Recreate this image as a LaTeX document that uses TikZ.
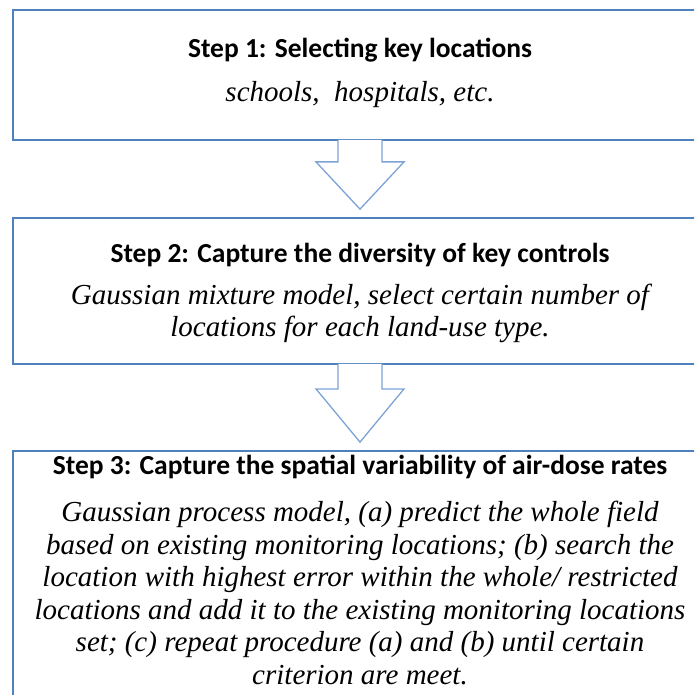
\documentclass[tikz,border=0pt]{standalone}
\usepackage{fontspec}
\setmainfont{Liberation Serif}
\newfontfamily\headfont{Carlito}
\usetikzlibrary{positioning,calc}
\definecolor{boxblue}{RGB}{79,129,189}
\definecolor{arrowblue}{RGB}{125,163,214}
\tikzset{
    flow/.style={
        x=1pt, y=-1pt,
        % Stile per i riquadri dei passi
        stepbox/.style={draw=boxblue, line width=1.8pt, rectangle,
                        minimum width=694pt, minimum height=##1,
                        inner sep=0pt},
        stepbox/.default=130pt,
        % Stile per i titoli (grassetto, sans)
        steptitle/.style={font=\headfont\bfseries\fontsize{27.5}{32}\selectfont,
                          inner sep=0pt},
        % Stile per le descrizioni (corsivo)
        stepbody/.style={font=\itshape\fontsize{29}{32.5}\selectfont,
                         align=center, inner sep=0pt},
        % Stile per le frecce a blocco
        blockarrow/.style={draw=arrowblue, line width=1.3pt, fill=white,
                           line join=miter}
    }
}

\begin{document}
\begin{tikzpicture}[flow]
    \useasboundingbox (0,0) rectangle (694,695);
    \clip (0,0) rectangle (694,695);

    \node[stepbox=130pt] (box1) at (360,75) {};
    \node[stepbox=146pt] (box2) at (360,291) {};
    \node[stepbox=270pt] (box3) at (360,586) {};

    \foreach \a/\b/\s in {box1/box2/21, box2/box3/24}
        \draw[blockarrow] ($(\a.south)+(-22,-1)$) -- ++(0,\s+1) -- ++(-22,0)
            -- ($(\b.north)+(0,-8)$) -- ($(\a.south)+(44,\s)$) -- ++(-22,0)
            -- ($(\a.south)+(22,-1)$);

    \node[steptitle] (title1) at (360,50) {Step 1: Selecting key locations};
    \node[stepbody] (body1) at (360,95) {schools,\ \ hospitals, etc.};

    \node[steptitle] (title2) at (360,255) {Step 2: Capture the diversity of key controls};
    \node[stepbody] (body2) at (360,313.5) {Gaussian mixture model, select certain number of\\
        locations for each land-use type.};

    \node[steptitle] (title3) at (360,467) {Step 3: Capture the spatial variability of air-dose rates};
    \node[stepbody] (body3) at (360,593) {Gaussian process model, (a) predict the whole field\\
        based on existing monitoring locations; (b) search the\\
        location with highest error within the whole/ restricted\\
        locations and add it to the existing monitoring locations\\
        set; (c) repeat procedure (a) and (b) until certain\\
        criterion are meet.};
\end{tikzpicture}
\end{document}
